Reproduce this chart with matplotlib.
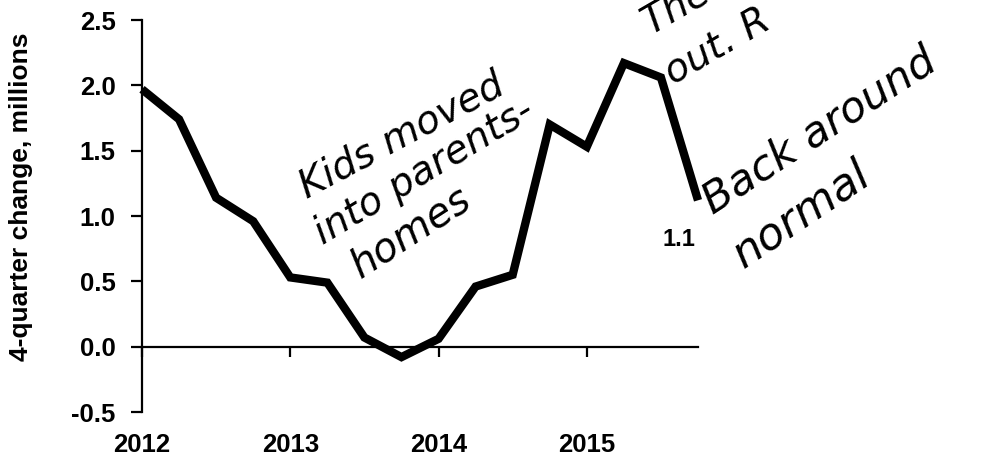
import matplotlib
matplotlib.use("Agg")
import matplotlib.pyplot as plt

# quarterly data, 4-quarter change in millions
quarters = [2012.0, 2012.25, 2012.5, 2012.75,
            2013.0, 2013.25, 2013.5, 2013.75,
            2014.0, 2014.25, 2014.5, 2014.75,
            2015.0, 2015.25, 2015.5, 2015.75]
change = [1.97, 1.74, 1.14, 0.96,
          0.53, 0.49, 0.07, -0.08,
          0.06, 0.46, 0.55, 1.70,
          1.53, 2.17, 2.06, 1.12]
years = [2012, 2013, 2014, 2015]
yticks = [-0.5, 0.0, 0.5, 1.0, 1.5, 2.0, 2.5]
last_label = "1.1"

# handwritten notes: text, pixel position of baseline start, rotation, size
notes = [
    ("Kids moved", 307, 199, 28, 28),
    ("into parents-", 323, 245, 31, 28),
    ("homes", 360, 279, 33, 29),
    ("Then", 650, 35, 30, 28),
    ("out. R", 673, 85, 30, 28),
    ("Back around", 713, 215, 33, 31),
    ("normal", 743, 269, 34, 32),
]

W, H = 997, 457
plt.rcParams['font.family'] = ['Liberation Sans', 'DejaVu Sans']

fig = plt.figure(figsize=(W / 100, H / 100), dpi=100)
ax = fig.add_axes([142 / W, 1 - 412 / H, (698 - 142) / W, (412 - 20) / H])

ax.plot(quarters, change, color='black', lw=6, solid_joinstyle='miter',
        solid_capstyle='butt', clip_on=False, zorder=3)

ax.set_xlim(2012, 2015.75)
ax.set_ylim(-0.5, 2.5)

# spines: y axis on the left, x axis at zero
for s in ['top', 'right']:
    ax.spines[s].set_visible(False)
ax.spines['left'].set_linewidth(1.6)
ax.spines['bottom'].set_position(('data', 0))
ax.spines['bottom'].set_linewidth(1.6)

ax.set_yticks(yticks)
ax.set_yticklabels([f"{v:.1f}" for v in yticks], fontsize=18.5, fontweight='bold')
ax.tick_params(axis='y', direction='out', length=8, width=1.6, pad=11)

ax.set_xticks(years)
ax.tick_params(axis='x', direction='out', length=7, width=1.6, labelbottom=False)
for yr in years:
    ax.text(yr, -0.084, str(yr), transform=ax.get_xaxis_transform(),
            ha='center', va='center', fontsize=18.5, fontweight='bold')

ax.set_ylabel("4-quarter change, millions", fontsize=19, fontweight='bold')
ax.yaxis.set_label_coords(-0.196, 0.55)

ax.text(2015.62, 0.82, last_label, ha='center', va='center',
        fontsize=17, fontweight='bold')

for txt, px, py, rot, size in notes:
    fig.text(px / W, 1 - py / H, txt, rotation=rot, rotation_mode='anchor',
             ha='left', va='baseline', fontsize=size, style='italic',
             family=['DejaVu Sans'], fontweight='light')

fig.savefig("out.png", dpi=100, facecolor='white')
